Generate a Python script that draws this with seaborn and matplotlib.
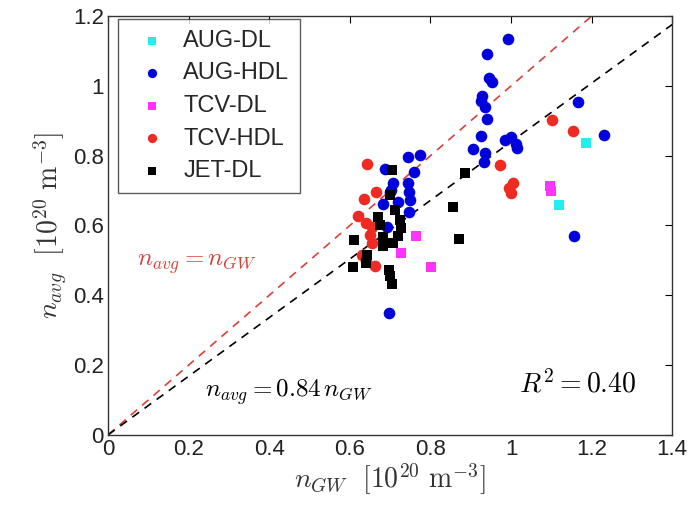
import numpy as np
import pandas as pd
import matplotlib
matplotlib.use("Agg")
import matplotlib.pyplot as plt
import seaborn as sns

# ---- data ----
aug_dl_x = [1.186, 1.118]
aug_dl_y = [0.836, 0.659]

aug_hdl_x = [0.993, 0.940, 0.946, 0.953, 0.927, 0.925, 0.935, 0.940, 0.925, 0.905,
             0.935, 0.933, 0.985, 0.999, 1.012, 1.016, 1.165, 1.231, 1.156,
             0.773, 0.744, 0.687, 0.758, 0.706, 0.745, 0.748, 0.700, 0.749,
             0.720, 0.682, 0.748, 0.693, 0.702, 0.697]
aug_hdl_y = [1.134, 1.091, 1.022, 1.010, 0.971, 0.957, 0.939, 0.905, 0.857, 0.820,
             0.807, 0.781, 0.845, 0.853, 0.834, 0.821, 0.955, 0.858, 0.570,
             0.802, 0.795, 0.761, 0.752, 0.721, 0.721, 0.697, 0.697, 0.673,
             0.668, 0.662, 0.640, 0.597, 0.701, 0.349]

tcv_dl_x = [0.764, 0.726, 0.801, 1.097, 1.099]
tcv_dl_y = [0.570, 0.522, 0.482, 0.712, 0.700]

tcv_hdl_x = [1.101, 1.155, 0.973, 1.004, 0.996, 1.000,
             0.643, 0.665, 0.634, 0.619, 0.639, 0.654, 0.651, 0.655, 0.630, 0.640, 0.663]
tcv_hdl_y = [0.903, 0.871, 0.772, 0.723, 0.707, 0.694,
             0.776, 0.697, 0.676, 0.628, 0.607, 0.597, 0.573, 0.549, 0.516, 0.497, 0.484]

jet_dl_x = [0.704, 0.886, 0.700, 0.857, 0.712, 0.671, 0.725, 0.675, 0.726, 0.720,
            0.683, 0.872, 0.610, 0.708, 0.683, 0.642, 0.640, 0.607, 0.696, 0.700, 0.704]
jet_dl_y = [0.759, 0.750, 0.688, 0.652, 0.645, 0.624, 0.616, 0.602, 0.592, 0.570,
            0.568, 0.561, 0.559, 0.551, 0.540, 0.516, 0.492, 0.482, 0.473, 0.454, 0.433]

groups = ["AUG-DL", "AUG-HDL", "TCV-DL", "TCV-HDL", "JET-DL"]
colors = ["#22eeee", "#0000dd", "#ff33ff", "#ee2a22", "#000000"]
markers = ["s", "o", "s", "o", "s"]

fit_slope = 0.84
line_x = [0.0, 1.4]

rows = []
for g, xs, ys in zip(groups,
                     [aug_dl_x, aug_hdl_x, tcv_dl_x, tcv_hdl_x, jet_dl_x],
                     [aug_dl_y, aug_hdl_y, tcv_dl_y, tcv_hdl_y, jet_dl_y]):
    for xv, yv in zip(xs, ys):
        rows.append({"nGW": xv, "navg": yv, "group": g})
df = pd.DataFrame(rows)

sns.set_style("white")
plt.rcParams["font.family"] = ["Liberation Sans", "DejaVu Sans"]
plt.rcParams["mathtext.fontset"] = "cm"

fig = plt.figure(figsize=(6.93, 5.05), dpi=100)
ax = fig.add_axes([0.156, 0.139, 0.814, 0.829])

# reference lines
ax.plot(line_x, line_x, linestyle=(0, (5, 4)), color="#d9403a", lw=1.2, zorder=1)
ax.plot(line_x, [v * fit_slope for v in line_x], linestyle=(0, (5, 4)),
        color="black", lw=1.2, zorder=1)

sizes = {"o": 70, "s": 52}
for g, c, m in zip(groups, colors, markers):
    sub = df[df["group"] == g]
    sns.scatterplot(data=sub, x="nGW", y="navg", ax=ax, color=c, marker=m,
                    s=sizes[m], linewidth=0, label=g, zorder=3)

ax.set_xlim(0, 1.4)
ax.set_ylim(0, 1.2)
ax.set_xticks(np.arange(0, 1.41, 0.2))
ax.set_yticks(np.arange(0, 1.21, 0.2))
ax.set_xticklabels(["0", "0.2", "0.4", "0.6", "0.8", "1", "1.2", "1.4"])
ax.set_yticklabels(["0", "0.2", "0.4", "0.6", "0.8", "1", "1.2"])
ax.tick_params(direction="in", length=5, width=0.8, top=True, right=True,
               labelsize=16, colors="black", pad=3)
ax.tick_params(axis="both", labelcolor="#222222")
for sp in ax.spines.values():
    sp.set_color("#333333")
    sp.set_linewidth(1.0)

ax.set_xlabel(r"$n_{GW}\ \ [10^{20}\ \mathrm{m}^{-3}]$", fontsize=20, color="#333333", labelpad=1)
ax.set_ylabel(r"$n_{avg}\ \ [10^{20}\ \mathrm{m}^{-3}]$", fontsize=20, color="#333333", labelpad=3)

ax.text(0.072, 0.485, r"$n_{avg} = n_{GW}$", color="#d9403a", fontsize=18)
ax.text(0.24, 0.11, r"$n_{avg} = 0.84\,n_{GW}$", color="black", fontsize=18)
ax.text(1.02, 0.12, r"$R^2 = 0.40$", color="black", fontsize=20)

handles, labels = ax.get_legend_handles_labels()
leg = ax.legend(handles, labels, loc="upper left", bbox_to_anchor=(0.018, 0.993),
                borderaxespad=0, fontsize=17, frameon=True, fancybox=False,
                edgecolor="#333333", labelspacing=0.45, handletextpad=0.3,
                borderpad=0.45, markerscale=0.8, handlelength=2.0)
leg.get_frame().set_linewidth(1.0)

fig.savefig("out.png", dpi=100)
